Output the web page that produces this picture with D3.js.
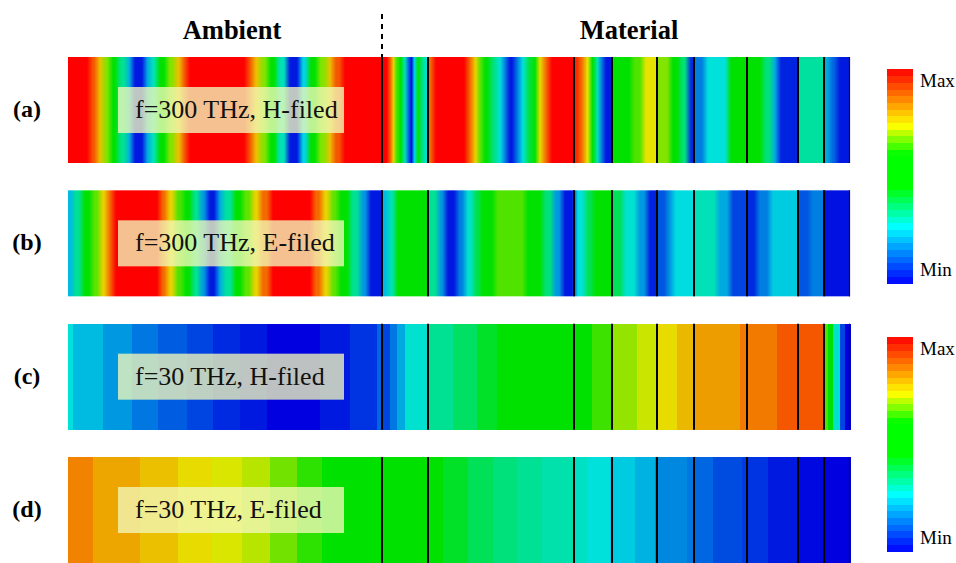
<!DOCTYPE html>
<html>
<head>
<meta charset="utf-8">
<script src="https://cdn.jsdelivr.net/npm/d3@7"></script>
<style>
  body { margin: 0; background: #fff; }
</style>
</head>
<body>
<div id="chart"></div>
<script>
// panel ids and the text in the white-ish boxes
var panels = ["(a)", "(b)", "(c)", "(d)"];
var boxLabels = ["f=300 THz, H-filed", "f=300 THz, E-filed", "f=30 THz, H-filed", "f=30 THz, E-filed"];
var regionLabels = ["Ambient", "Material"];
var scaleLabels = ["Max", "Min"];

// position along the structure (a.u., 0..782), ambient/material border at 314
var domainEnd = 782;
var border = 314;
var interfaces = [314, 360, 506, 544, 589, 626, 679, 730, 756];

// normalised field, [band start, value]; each band runs to the next start
var fieldA = [[0,1],[22,.9],[29,.78],[35,.68],[42,.52],[50,.33],[59,.2],[64,.03],[77,.2],[82,.3],[89,.5],[99,.68],[107,.78],[114,.9],[119,1],
  [179,.9],[185,.78],[192,.68],[200,.52],[209,.3],[219,.03],[232,.25],[240,.5],[250,.68],[259,.78],[265,.9],[274,1],
  [316,1],[321,.88],[324,.76],[327,.65],[330,.5],[335,.3],[339,.12],[342,.02],[345,.25],[348,.45],[352,.35],[356,.28],
  [360,.88],[365,1],[399,.88],[405,.76],[410,.66],[414,.52],[422,.35],[429,.27],[435,.15],[439,.03],[447,.15],[452,.27],[458,.4],[465,.6],[469,.75],[475,.88],[481,1],
  [506,.95],[512,.86],[517,.74],[522,.52],[527,.3],[532,.15],[535,.03],
  [544,.5],[564,.65],[575,.74],[589,.68],[602,.55],[612,.35],[620,.05],
  [626,.15],[637,.27],[660,.5],[695,.35],[704,.2],[710,.04],[730,.32],[756,.2],[762,.12],[769,.03]];

var fieldB = [[0,.22],[5,.33],[14,.5],[24,.66],[32,.76],[39,.88],[45,1],[92,.88],[99,.76],[107,.65],[115,.5],[124,.33],[132,.18],[139,.03],
  [149,.2],[155,.32],[165,.5],[175,.66],[184,.76],[192,.88],[202,1],[245,.88],[254,.76],[262,.66],[270,.5],[282,.33],[292,.18],[300,.03],
  [314,.22],[320,.3],[327,.5],[360,.33],[370,.18],[377,.03],[389,.15],[397,.28],[405,.38],[412,.52],[427,.65],[457,.52],[475,.35],[485,.18],[494,.03],
  [507,.27],[517,.38],[525,.5],[544,.38],[555,.28],[569,.18],[579,.04],[589,.1],[599,.18],[605,.26],
  [626,.3],[649,.2],[662,.08],[679,.05],[689,.15],[702,.24],[730,.1],[742,.15],[756,.02]];

var fieldC = [[0,.27],[5,.22],[35,.18],[64,.14],[90,.11],[119,.08],[145,.05],[172,.03],[199,0],[252,.03],[282,.06],[309,.12],
  [314,.08],[322,.14],[329,.2],[337,.28],[359,.33],[385,.37],[409,.42],[429,.5],[505,.55],[524,.64],[543,.69],[569,.72],
  [588,.75],[609,.79],[625,.82],[672,.86],[709,.9],[755,.65],[760,.5],[765,.28],[772,.08],[777,0]];

var fieldD = [[0,.85],[25,.81],[72,.78],[110,.75],[144,.73],[174,.71],[202,.67],[229,.63],[254,.52],
  [359,.48],[375,.42],[400,.38],[425,.35],[449,.33],[474,.31],[505,.29],[519,.27],[542,.24],[567,.21],
  [587,.16],[619,.14],[625,.12],[645,.09],[674,.07],[678,.06],[700,.03],[729,.01],[755,0]];

var fields = [fieldA, fieldB, fieldC, fieldD];

// rainbow map with a green plateau, as in the colour bars
var mapStops = [0, 0.265, 0.452, 0.604, 0.737, 1];
var barColors = ["#0000ff", "#00ffff", "#00ff00", "#00ff00", "#ffff00", "#ff0000"];
var fieldColors = ["#0000e1", "#00e1e1", "#00e100", "#00e100", "#e6e600", "#ff0000"];
var barLevels = 32;
// the 300 THz maps are finely shaded, the 30 THz ones show flat steps
var smoothStrip = [true, true, false, false];

var width = 956, height = 563;
var svg = d3.select("#chart").append("svg")
    .attr("width", width)
    .attr("height", height)
    .style("font-family", "'Liberation Serif', 'Times New Roman', serif");
var defs = svg.append("defs");

var x = d3.scaleLinear().domain([0, domainEnd]).range([68, 850]);
var y = d3.scaleLinear().domain([0, 3]).range([57, 457]);
var stripH = 106;

var fieldColor = d3.scaleLinear().domain(mapStops).range(fieldColors).interpolate(d3.interpolateRgb).clamp(true);
var barColor = d3.scaleLinear().domain(mapStops).range(barColors).interpolate(d3.interpolateRgb).clamp(true);

function bandEnd(data, j) {
  return j + 1 < data.length ? data[j + 1][0] : domainEnd;
}

// gradient stops: flat inside a band, short blend across band edges
// (no blend across a material interface)
function gradientStops(data) {
  var out = [];
  data.forEach(function(d, j) {
    var s = d[0], e = bandEnd(data, j), half = (e - s) / 2;
    var ls = (j === 0 || interfaces.indexOf(s) >= 0) ? 0.3 : Math.min(half, 3);
    var le = (j === data.length - 1 || interfaces.indexOf(e) >= 0) ? 0.3 : Math.min(half, 3);
    out.push({ pos: s + ls, v: d[1] });
    out.push({ pos: e - le, v: d[1] });
  });
  return out;
}

fields.forEach(function(data, i) {
  var g = svg.append("g").attr("transform", "translate(0," + y(i) + ")");

  if (smoothStrip[i]) {
    var grad = defs.append("linearGradient")
      .attr("id", "grad" + i)
      .attr("gradientUnits", "userSpaceOnUse")
      .attr("x1", x(0)).attr("x2", x(domainEnd))
      .attr("y1", 0).attr("y2", 0);
    grad.selectAll("stop")
      .data(gradientStops(data))
      .join("stop")
        .attr("offset", function(d) { return d.pos / domainEnd; })
        .attr("stop-color", function(d) { return fieldColor(d.v); });
    g.append("rect")
      .attr("x", x(0)).attr("y", 0)
      .attr("width", x(domainEnd) - x(0))
      .attr("height", stripH)
      .attr("fill", "url(#grad" + i + ")");
  } else {
    g.selectAll("rect.band")
      .data(data)
      .join("rect")
        .attr("class", "band")
        .attr("x", function(d) { return x(d[0]); })
        .attr("width", function(d, j) { return x(bandEnd(data, j)) - x(d[0]) + 0.6; })
        .attr("y", 0)
        .attr("height", stripH)
        .attr("fill", function(d) { return fieldColor(d[1]); })
        .attr("shape-rendering", "crispEdges");
  }

  g.selectAll("line.intf")
    .data(interfaces)
    .join("line")
      .attr("class", "intf")
      .attr("x1", function(d) { return x(d); })
      .attr("x2", function(d) { return x(d); })
      .attr("y1", 0)
      .attr("y2", stripH)
      .attr("stroke", "#000")
      .attr("stroke-width", 2);

  // right boundary
  g.append("line")
    .attr("x1", x(domainEnd) - 0.5).attr("x2", x(domainEnd) - 0.5)
    .attr("y1", 0).attr("y2", stripH)
    .attr("stroke", "#111").attr("stroke-width", 1.2);

  g.append("rect")
    .attr("x", 118).attr("y", 30)
    .attr("width", 226).attr("height", 46)
    .attr("fill", "#f2f7b8")
    .attr("fill-opacity", 0.78);

  g.append("text")
    .attr("x", 135).attr("y", 61)
    .attr("font-size", 26)
    .attr("fill", "#111")
    .text(boxLabels[i]);

  svg.append("text")
    .attr("x", 27).attr("y", y(i) + 60)
    .attr("text-anchor", "middle")
    .attr("font-size", 24)
    .attr("font-weight", "bold")
    .text(panels[i]);
});

// ambient / material header
svg.append("line")
  .attr("x1", x(border)).attr("x2", x(border))
  .attr("y1", 14).attr("y2", y(0))
  .attr("stroke", "#000").attr("stroke-width", 2)
  .attr("stroke-dasharray", "5,5");

svg.selectAll("text.region")
  .data(regionLabels)
  .join("text")
    .attr("class", "region")
    .attr("x", function(d, i) { return i === 0 ? x(border / 2 + 7) : x(border + (domainEnd - border) / 2 + 13); })
    .attr("y", 39)
    .attr("text-anchor", "middle")
    .attr("font-size", 26.5)
    .attr("font-weight", "bold")
    .text(function(d) { return d; });

// two colour bars
var barTops = [69, 337];
var barH = 214;
var lv = d3.range(barLevels);
var by = d3.scaleLinear().domain([0, barLevels]).range([barH, 0]);

barTops.forEach(function(top) {
  var g = svg.append("g").attr("transform", "translate(887," + top + ")");
  g.selectAll("rect")
    .data(lv)
    .join("rect")
      .attr("x", 0)
      .attr("y", function(d) { return by(d + 1); })
      .attr("width", 26)
      .attr("height", function(d) { return by(d) - by(d + 1) + 0.5; })
      .attr("fill", function(d) { return barColor((d + 0.5) / barLevels); })
      .attr("shape-rendering", "crispEdges");

  g.selectAll("text")
    .data(scaleLabels)
    .join("text")
      .attr("x", 33)
      .attr("y", function(d, i) { return i === 0 ? 18 : barH - 7; })
      .attr("font-size", 19)
      .text(function(d) { return d; });
});
</script>
</body>
</html>
